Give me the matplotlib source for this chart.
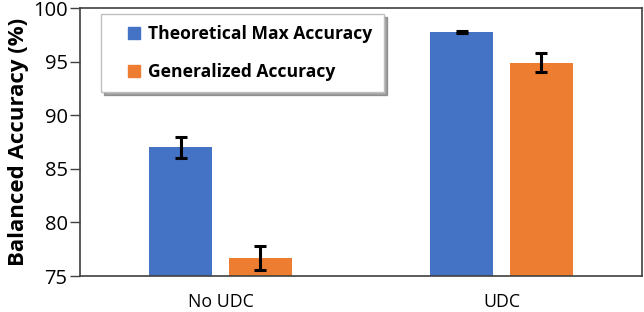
import matplotlib
matplotlib.use("Agg")
import matplotlib.pyplot as plt
from matplotlib.lines import Line2D
import numpy as np

categories = ["No UDC", "UDC"]
series_names = ["Theoretical Max Accuracy", "Generalized Accuracy"]
theoretical = [87.0, 97.8]
theoretical_err = [1.0, 0.1]
generalized = [76.7, 94.9]
generalized_err = [1.1, 0.9]
yticks = [75, 80, 85, 90, 95, 100]

colors = ["#4472C4", "#ED7D31"]

plt.rcParams['font.family'] = ['Open Sans', 'DejaVu Sans']

fig = plt.figure(figsize=(6.44, 3.12), dpi=100)
ax = fig.add_axes([80/644, 1 - 276/312, 562/644, 268/312])

x = np.arange(len(categories))
w = 0.224
off = 0.142
ax.bar(x - off, theoretical, w, yerr=theoretical_err, color=colors[0],
       label=series_names[0], capsize=4,
       error_kw=dict(elinewidth=2.2, capthick=2.2, ecolor="black"))
ax.bar(x + off, generalized, w, yerr=generalized_err, color=colors[1],
       label=series_names[1], capsize=4,
       error_kw=dict(elinewidth=2.2, capthick=2.2, ecolor="black"))

ax.set_xlim(-0.5, 1.5)
ax.set_ylim(75, 100)
ax.set_yticks(yticks)
ax.set_yticklabels([str(t) for t in yticks], fontsize=14.5)
ax.set_xticks(x)
ax.set_xticklabels(categories, fontsize=12.8)
ax.tick_params(axis='x', length=0, pad=12)
ax.tick_params(axis='y', length=7, width=1, color="#404040", direction='out', pad=2)
for s in ax.spines.values():
    s.set_color("#404040")
    s.set_linewidth(1.2)

ax.set_ylabel("Balanced Accuracy (%)", fontsize=16, fontweight='bold', labelpad=3)

handles = [Line2D([], [], linestyle='none', marker='s', markersize=8,
                  markerfacecolor=c, markeredgecolor=c) for c in colors]
leg = ax.legend(handles, series_names, loc='upper left',
                bbox_to_anchor=(21/562, 1 - 6/268),
                prop=dict(size=12.6, weight='bold'), handlelength=2.5,
                handletextpad=-0.45, borderpad=0.65,
                labelspacing=1.1, fancybox=False, shadow=True,
                edgecolor="#BFBFBF", borderaxespad=0)
leg.get_frame().set_linewidth(1.0)

fig.savefig("out.png", dpi=100)
